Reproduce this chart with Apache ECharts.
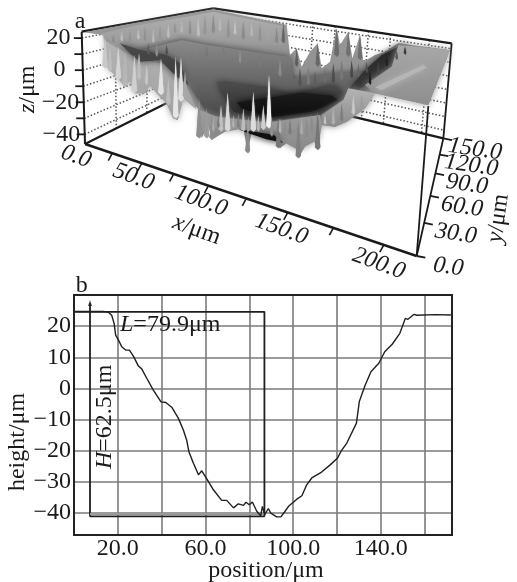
<!DOCTYPE html>
<html><head><meta charset="utf-8">
<style>html,body{margin:0;padding:0;background:#fff}#c{width:517px;height:582px;filter:blur(0.3px)}</style>
<script src="https://cdn.jsdelivr.net/npm/echarts@6/dist/echarts.min.js"></script>
</head><body><div id="c"></div>
<script>
// ---- panel b data
const profileX = [0.5,13.4,15.7,17.2,18.3,19,20.2,21.8,23.7,25.3,27.1,29.4,30.9,33.2,36.2,39.7,41.9,44.6,47.6,49.9,51.4,52.4,54.5,56.8,58.3,60.6,63.6,67.4,69.7,72.8,75,77.3,78.5,80,81.4,83.4,85.2,86,87,88.7,89.8,92.5,94.4,96,97.9,101.7,104,106.2,108.5,113,116.9,120.3,121.8,124.5,128.9,130.2,132.9,135.5,139.1,141.8,145.2,148.7,151.2,152.4,155.2,156.4,165,172];
const profileH = [24.7,24.7,24.5,23.5,20.9,17.1,15.7,13.4,12.3,12.3,10.4,7.2,6.3,3.3,-0.5,-4.3,-4.5,-6,-9.5,-13.3,-16.5,-20.2,-24,-27.7,-26.4,-29,-32.5,-35.9,-35.9,-38.3,-37,-37.5,-36.5,-37.3,-36.4,-39.4,-40.8,-37.8,-40.5,-38.5,-40,-41.2,-41.2,-39.7,-37.8,-35.5,-34.4,-30.9,-28.7,-26.8,-24.5,-22.3,-20.2,-17.5,-11.1,-4.2,1.1,5.4,8.1,11.8,14.2,17.7,22.5,22.2,23.8,23.5,23.7,23.6];
const heightTicks = [20,10,0,-10,-20,-30,-40];
const positionLabels = [20,60,100,140];
const cursorX = [7.3,86.9];
const cursorH = [-41,24.6];
const cursorTop = 27.4;

// ---- panel a: axis values
const xTicks3d = [25,50,75,100,125,150,175,200];
const xLabels3d = [0,50,100,150,200];
const yTicks3d = [0,30,60,90,120,150];
const zTicks3d = [20,10,0,-10,-20,-30,-40];
const zLabels3d = [20,0,-20,-40];
const backWallX = [90,110,140,160,195];
const sideWallY = [38,75];

// ---- panel a: surface outlines (view-plane units, 3 per pixel)
const surfaceOutline = [[250,97],[400,70],[640,28],[850,72],[860,75],[870,165],[890,145],[905,200],[930,155],[953,130],[965,205],[990,185],[1010,85],[1020,135],[1045,95],[1057,175],[1080,105],[1090,185],[1125,165],[1155,155],[1195,130],[1350,150],[1285,315],[1125,280],[1095,325],[1040,365],[1005,380],[965,375],[953,450],[935,405],[895,475],[880,415],[840,445],[825,420],[785,410],[755,395],[743,460],[730,385],[675,395],[635,420],[625,375],[605,415],[593,325],[550,295],[533,360],[520,355],[500,310],[475,285],[450,255],[435,280],[403,280],[390,240],[375,260],[350,230],[330,210],[317,195],[310,105]];
const rimBand = [[300,102],[400,78],[640,36],[850,78],[850,135],[740,135],[640,135],[545,115],[440,130],[400,145],[330,120]];
const leftMass = [[312,120],[345,140],[420,180],[480,190],[540,200],[560,260],[590,330],[550,295],[533,360],[520,355],[500,310],[475,285],[450,255],[435,280],[403,280],[390,240],[375,260],[350,230],[330,210],[317,195]];
const valleyMid = [[405,155],[545,120],[625,135],[825,165],[870,170],[880,235],[1000,220],[1100,215],[1190,140],[1230,150],[1100,270],[1030,295],[960,345],[800,365],[625,345],[565,255],[500,170]];
const valleyDark = [[650,245],[800,265],[880,285],[1000,255],[1040,290],[960,345],[820,360],[700,335]];
const valleyBlack = [[815,292],[905,278],[995,287],[1015,300],[935,335],[815,352],[725,325],[710,307]];
const rightDark = [[1035,280],[1095,210],[1145,165],[1205,135],[1235,150],[1175,200],[1095,255],[1045,295]];
const leftDark = [[360,130],[420,150],[500,165],[540,190],[565,255],[530,230],[480,180],[420,185],[390,160]];
const frontBand = [[600,330],[650,350],[800,368],[960,345],[965,375],[953,420],[895,450],[840,420],[785,405],[755,392],[730,385],[675,392],[625,375],[605,400]];
const frontFloor = [[715,388],[820,404],[850,428],[800,418],[745,400]];
const rightRidge = [[965,345],[1030,300],[1045,265],[1125,280],[1095,325],[1040,365],[1005,380],[965,375]];
const plate = [[1195,135],[1350,150],[1285,315],[1125,280],[1095,255],[1175,200]];
const plateStreak = [[1125,262],[1270,195],[1280,203],[1145,270]];
const surfaceLayers = [surfaceOutline,rimBand,valleyMid,leftMass,leftDark,valleyDark,valleyBlack,rightDark,plate,plateStreak,rightRidge,frontBand,frontFloor];
const layerTones = [['#9a9a9a','#868686'],['#b0b0b0','#989898'],['#8a8a8a','#444444'],['#b4b4b4','#a0a0a0'],['#4a4a4a','#3a3a3a'],['#4e4e4e','#262626'],['#1c1c1c','#0c0c0c'],['#262626','#3a3a3a'],['#a8a8a8','#8e8e8e'],['#b6b6b6','#b6b6b6'],['#b4b4b4','#8a8a8a'],['#9c9c9c','#8a8a8a'],['#101010','#101010']];

// spikes: [view x, tip y, base y]
const spikes = [[315,110,205],[330,140,215],[355,140,240],[375,155,260],[403,165,280],[417,160,240],[440,195,255],[450,195,260],[483,175,285],[505,235,315],[527,170,355],[543,170,305],[555,215,295],[597,295,415],[620,325,415],[635,345,420],[663,315,395],[683,277,395],[730,325,395],[743,375,460],[760,275,395],[775,345,395],[807,225,385],[790,315,390],[815,355,410],[835,355,445],[855,360,415],[895,365,475],[920,355,415],[953,335,450],[850,70,130],[1010,85,170],[1045,95,170],[1080,105,180],[890,145,200],[953,130,200],
[340,105,130],[365,95,125],[390,90,130],[415,88,120],[435,82,125],[460,85,130],[480,78,120],[505,72,115],[525,68,100],[545,62,100],[570,58,105],[595,52,110],[615,45,105],[640,42,100],[660,48,95],[685,55,115],[705,60,105],[730,62,120],[755,68,110],[780,72,125],[805,78,120],[830,82,130],
[445,130,165],[470,125,170],[500,135,165],[585,130,160],[620,135,175],[670,135,170],[720,150,190],[780,165,200],[840,175,230],
[900,205,260],[925,200,255],[945,215,260],[975,205,250],[1000,190,250],[1025,180,240],[1055,180,235],[1075,190,230],[1100,185,220],
[1110,215,255],[1135,185,225],[1160,165,200],[1190,150,180],[1215,140,165],
[640,350,395],[655,345,385],[700,345,385],[715,340,385],[745,350,395],[840,355,400],[870,355,405],[905,350,405],[935,345,400],[975,345,375],[1000,320,375],[1025,310,365],[1060,285,345],[1085,285,325]];
const spikeTones = ['#c8c8c8','#bdbdbd','#d4d4d4','#b6b6b6','#cfcfcf','#bdbdbd','#c6c6c6','#a8a8a8','#e2e2e2','#bcbcbc','#e6e6e6','#e0e0e0','#a8a8a8','#8f8f8f','#9a9a9a','#8d8d8d','#c0c0c0','#d8d8d8','#bcbcbc','#8a8a8a','#dcdcdc','#b8b8b8','#f2f2f2','#d0d0d0','#8f8f8f','#777777','#8c8c8c','#808080','#8c8c8c','#777777','#666666','#6b6b6b','#707070','#6e6e6e','#5e5e5e','#666666',
'#8d8d8d','#bcbcbc','#939393','#c0c0c0','#909090','#b8b8b8','#959595','#bebebe','#939393','#b8b8b8','#8e8e8e','#bcbcbc','#979797','#8d8d8d','#b8b8b8','#939393','#c2c2c2','#8c8c8c','#b8b8b8','#929292','#a4a4a4','#888888',
'#5a5a5a','#8a8a8a','#505050','#848484','#787878','#7c7c7c','#8f8f8f','#7a7a7a','#8a8a8a',
'#555555','#7a7a7a','#5d5d5d','#6e6e6e','#4e4e4e','#777777','#4a4a4a','#666666','#505050',
'#1e1e1e','#454545','#222222','#555555','#3a3a3a',
'#a8a8a8','#7c7c7c','#b0b0b0','#808080','#a0a0a0','#b5b5b5','#7c7c7c','#a8a8a8','#8c8c8c','#c4c4c4','#b0b0b0','#7e7e7e','#c6c6c6','#9c9c9c'];

// ---- panel a: geometry of the box (view plane)
const FL=[255,432],FR=[1250,768],BR=[1330,415],BL=[626,246],TL=[245,95],TB=[640,25],TR=[1355,130],FRtop=[1285,318];
const lerp=(a,b,t)=>[a[0]+(b[0]-a[0])*t,a[1]+(b[1]-a[1])*t];
const xFrac=x=>0.00352*x/(1-0.00148*x);        // perspective along front x axis
const yFrac=y=>0.01045*y/(1+0.003786*y);       // perspective along y axis
const xPos=x=>lerp(FL,FR,xFrac(x)/xFrac(215));
const yPos=y=>lerp(FR,BR,yFrac(y));
const zFrac=z=>(24-z)/70;
const zLeft=z=>lerp(TL,FL,zFrac(z));
const zBack=z=>lerp(TB,BL,zFrac(z));
const zRight=z=>lerp(TR,BR,zFrac(z));

// segments: [from,to,width,color,dashed]
const segs=[];
sideWallY.forEach(y=>{const t=y/150;segs.push([lerp(TL,TB,t),lerp(FL,BL,t),1.5,'#555',1]);});
backWallX.forEach(x=>{const t=x/215;segs.push([lerp(TB,TR,t),lerp(BL,BR,t),1.5,'#555',1]);});
zTicks3d.forEach(z=>{segs.push([zLeft(z),zBack(z),1.5,'#555',1]);segs.push([zBack(z),zRight(z),1.5,'#555',1]);});
const frame=[[TL,TB,2.4],[TB,TR,2.4],[TL,FL,2],[TR,BR,1.8],[FL,BL,2.2],[BL,BR,2.4],[FL,FR,2.4],[FR,BR,1.8],[FR,FRtop,1.8]];
frame.forEach(f=>segs.push([f[0],f[1],f[2],'#1a1a1a',0]));
xTicks3d.forEach(x=>{const p=xPos(x);segs.push([p,[p[0]-12,p[1]+22],1.6,'#1a1a1a',0]);});
yTicks3d.forEach(y=>{const p=yPos(y);segs.push([p,[p[0]+26,p[1]+5],1.8,'#1a1a1a',0]);});
zTicks3d.forEach(z=>{const p=zLeft(z);segs.push([p,[p[0]-24,p[1]],1.8,'#1a1a1a',0]);});

const SERIF='"Liberation Serif","Times New Roman",serif';
const FS=24;
const rich={i:{fontStyle:'italic',fontFamily:SERIF,fontSize:FS,fill:'#1a1a1a'},n:{fontFamily:SERIF,fontSize:FS,fill:'#1a1a1a'}};
const texts=[];
xLabels3d.forEach(x=>{const f=xFrac(x)/xFrac(200),p=x===0?FL:xPos(x);texts.push([p[0]-27+12*f,p[1]+38+18*f,x.toFixed(1),-20,'italic']);});
yTicks3d.forEach(y=>{const p=yPos(y);texts.push([p[0]+95,p[1]+33,y.toFixed(1),-8,'italic']);});
zLabels3d.forEach(z=>{const p=zLeft(z);texts.push([p[0]-70,p[1],String(z).replace('-','\u2212'),0,'normal']);});
texts.push([240,65,'a',0,'normal']);
texts.push([245,858,'b',0,'normal']);
texts.push([82,268,'{i|z}{n|/\u03bcm}',90,'normal']);
texts.push([590,690,'{i|x}{n|/\u03bcm}',-20,'normal']);
texts.push([1495,655,'{i|y}{n|/\u03bcm}',82,'normal']);
texts.push([54,1326,'height/\u03bcm',90,'normal']);
texts.push([798,1713,'position/\u03bcm',0,'normal']);

const fillOf=t=>t[0]===t[1]?t[0]:new echarts.graphic.LinearGradient(0,0,0,1,[{offset:0,color:t[0]},{offset:1,color:t[1]}]);
const polyItem=(api,pts,fill,blur,shadow)=>({type:'polygon',shape:{points:pts.map(p=>api.coord(p))},
  style:{fill:fill,shadowBlur:blur,shadowColor:shadow},silent:true});
const G3D={xAxisIndex:1,yAxisIndex:1,coordinateSystem:'cartesian2d',silent:true,clip:false};
const notes=[[21,20.5,'{i|L}{n|=79.9\u03bcm}',0],[14.2,-9.1,'{i|H}{n|=62.5\u03bcm}',90]];

const option={
 animation:false,backgroundColor:'#fff',
 grid:[{left:74,top:295,width:378,height:240,show:true,borderColor:'#222',borderWidth:2,z:3},
       {left:0,top:0,width:517,height:280,show:false}],
 xAxis:[{type:'value',gridIndex:0,min:0,max:172.5,interval:20,
   axisLine:{show:false},axisTick:{show:false},
   splitLine:{show:true,lineStyle:{color:'#7a7a7a',width:1.6}},
   axisLabel:{margin:2,fontFamily:SERIF,fontSize:24,color:'#1a1a1a',showMinLabel:false,showMaxLabel:false,
     formatter:v=>positionLabels.includes(v)?v.toFixed(1):''}},
  {type:'value',gridIndex:1,min:0,max:1551,show:false}],
 yAxis:[{type:'value',gridIndex:0,min:-47,max:30,
   axisLine:{show:false},axisTick:{show:false,customValues:heightTicks},
   splitLine:{show:true,lineStyle:{color:'#7a7a7a',width:1.6}},
   axisLabel:{margin:3,customValues:heightTicks,fontFamily:SERIF,fontSize:24,color:'#1a1a1a',
     formatter:v=>String(v).replace('-','\u2212')}},
  {type:'value',gridIndex:1,min:0,max:840,inverse:true,show:false}],
 series:[
  Object.assign({type:'custom',z:1,data:segs.map((s,i)=>[i]),renderItem:(p,api)=>{
    const s=segs[p.dataIndex],a=api.coord(s[0]),b=api.coord(s[1]);
    return {type:'line',shape:{x1:a[0],y1:a[1],x2:b[0],y2:b[1]},
      style:{stroke:s[3],lineWidth:s[2],lineDash:s[4]?[1.5,2]:null},silent:true};
  }},G3D),
  Object.assign({type:'custom',z:2,data:surfaceLayers.map((s,i)=>[i]),renderItem:(p,api)=>{
    const t=layerTones[p.dataIndex];
    return polyItem(api,surfaceLayers[p.dataIndex],fillOf(t),p.dataIndex?7:0,t[1]);
  }},G3D),
  Object.assign({type:'custom',z:3,data:spikes.map((s,i)=>[i]),renderItem:(p,api)=>{
    const s=spikes[p.dataIndex],w=Math.min(8,Math.max(3.5,(s[2]-s[1])/12));
    return polyItem(api,[[s[0],s[1]],[s[0]+w,s[2]-8],[s[0]+1,s[2]],[s[0]-w,s[2]-8]],spikeTones[p.dataIndex],1,spikeTones[p.dataIndex]);
  }},G3D),
  Object.assign({type:'custom',z:4,data:texts.map((s,i)=>[i]),renderItem:(p,api)=>{
    const t=texts[p.dataIndex],c=api.coord([t[0],t[1]]);
    return {type:'text',x:c[0],y:c[1],rotation:t[3]*Math.PI/180,
      style:{text:t[2],rich:rich,fontFamily:SERIF,fontSize:FS,fontStyle:t[4],fill:'#1a1a1a',align:'center',verticalAlign:'middle'},silent:true};
  }},G3D),
  // panel b
  {type:'line',xAxisIndex:0,yAxisIndex:0,z:5,showSymbol:false,symbol:'none',silent:true,
   lineStyle:{color:'#1f1f1f',width:1.4},data:profileX.map((x,i)=>[x,profileH[i]])},
  {type:'line',xAxisIndex:0,yAxisIndex:0,z:4,symbol:'none',silent:true,lineStyle:{color:'#1f1f1f',width:1.8},
   data:[[cursorX[0],cursorTop],[cursorX[0],cursorH[0]],[cursorX[1],cursorH[0]],[cursorX[1],cursorH[1]],[0.5,cursorH[1]]]},
  {type:'line',xAxisIndex:0,yAxisIndex:0,z:4,symbol:'none',silent:true,lineStyle:{color:'#9a9a9a',width:2},
   data:[[cursorX[0],cursorH[0]+0.7],[cursorX[1],cursorH[0]+0.7]]},
  {type:'scatter',xAxisIndex:0,yAxisIndex:0,z:6,silent:true,symbol:'triangle',symbolSize:[4,6],itemStyle:{color:'#1f1f1f'},
   data:[[cursorX[0],cursorTop]]},
  {type:'custom',xAxisIndex:0,yAxisIndex:0,coordinateSystem:'cartesian2d',z:7,silent:true,clip:false,
   data:notes.map((n,i)=>[n[0],n[1]]),
   renderItem:(p,api)=>{
     const d=notes[p.dataIndex],c=api.coord([d[0],d[1]]);
     return {type:'text',x:c[0],y:c[1],rotation:d[3]*Math.PI/180,
       style:{text:d[2],rich:rich,fontFamily:SERIF,fontSize:FS,fill:'#1a1a1a',align:d[3]?'center':'left',verticalAlign:'middle'},silent:true};
   }}
 ]
};
echarts.init(document.getElementById('c'),null,{renderer:'canvas'}).setOption(option);
</script></body></html>
